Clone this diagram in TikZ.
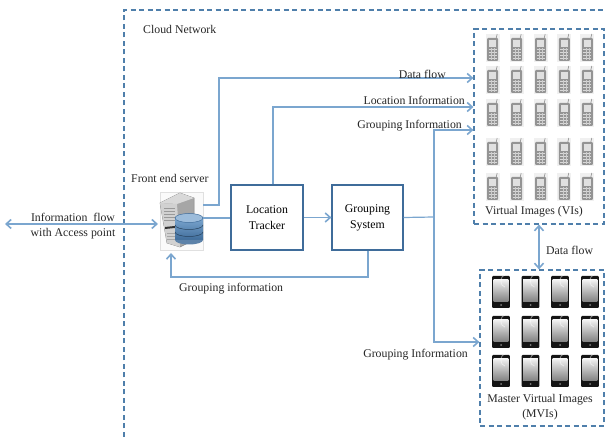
\documentclass[tikz,border=0pt]{standalone}
\usepackage{fontspec}
\setmainfont{Liberation Serif}
\usetikzlibrary{arrows.meta,calc,positioning}
\definecolor{flow}{HTML}{7BA6CF}
\definecolor{dash}{HTML}{4F7FAB}
\definecolor{boxb}{HTML}{3F6C9A}
\tikzset{
 x=1pt,y=-1pt,
 conn/.style={draw=flow,line width=1.2pt},
 arr/.style={conn,-{Straight Barb[length=5pt,width=9pt,line width=1.6pt]}},
 darr/.style={conn,{Straight Barb[length=5pt,width=9pt,line width=1.6pt]}-{Straight Barb[length=5pt,width=9pt,line width=1.6pt]}},
 dashbox/.style={draw=dash,line width=1.2pt,dash pattern=on 5pt off 3.5pt},
 procbox/.style={draw=boxb,line width=1.2pt,fill=white,align=center,inner sep=0pt},
 lab/.style={font=\fontsize{11.8}{15}\selectfont,align=center,inner sep=0pt,text=black!85},
 pics/oldphone/.style={code={
   \fill[black!6] (-7,-14) rectangle (7,14);
   \fill[black!42,rounded corners=1pt] (-5.5,-10) rectangle (5.5,13);
   \draw[black!45,line width=.6pt] (3.5,-10) -- (4.5,-14);
   \fill[black!12] (-3.7,-8) rectangle (3.7,-1);
   \foreach \i in {0,1,2,3}{\draw[black!15,line width=.7pt] (-4,{1.5+\i*2.8}) -- (4,{1.5+\i*2.8});}
   \foreach \j in {-1.5,1.5}{\draw[black!20,line width=.5pt] (\j,0) -- (\j,12);}
 }},
 pics/smartphone/.style={code={
   \fill[black!92,rounded corners=1pt] (-8.8,-16) rectangle (8.8,16);
   \shade[top color=black!5,bottom color=black!50] (-7.4,-12.5) rectangle (7.4,10);
   \draw[white,opacity=.5,line width=.8pt] (4,-5) arc (90:270:4 and 6);
   \fill[black!50] (0,13) circle (1);
 }}
}
\begin{document}
\begin{tikzpicture}
\useasboundingbox (0,0) rectangle (606,438);
% cloud boundary
\coordinate (cloudA) at (124,437);
\coordinate (cloudB) at (124,10);
\coordinate (cloudC) at (606,10);
\draw[dashbox] (cloudA) -- (cloudB) -- (cloudC);
\node[lab,anchor=west] (cloudlab) at (143,29) {Cloud Network};
% image groups
\node[dashbox,minimum width=130pt,minimum height=195pt,inner sep=0pt] (vi) at (539,126.5) {};
\node[dashbox,minimum width=124pt,minimum height=156pt,inner sep=0pt] (mvi) at (542,348) {};
\foreach \y in {48,80,113,152,187}{\foreach \x in {492.7,516.7,540.7,564.3,587.3}{\pic at (\x,\y) {oldphone};}}
\foreach \y in {292,332,371}{\foreach \x in {501,530.5,560,590}{\pic at (\x,\y) {smartphone};}}
\node[lab] (vilab) at (534,212) {Virtual Images (VIs)};
\node[lab] (mvilab) at (540,407) {Master Virtual Images\\(MVIs)};
% process boxes
\node[procbox,minimum width=72pt,minimum height=65pt,font=\fontsize{11.8}{16}\selectfont] (lt) at (267,217.5) {\raisebox{-2pt}{\parbox{60pt}{\centering Location\\Tracker}}};
\node[procbox,minimum width=71pt,minimum height=65pt,font=\fontsize{11.8}{16}\selectfont] (gs) at (367.5,217.5) {\raisebox{-2pt}{\parbox{60pt}{\centering Grouping\\System}}};
% server
\node[draw=black!12,line width=.4pt,fill=black!2,minimum width=43pt,minimum height=58pt,inner sep=0pt] (srv) at (181.5,221) {};
\draw[black!50,line width=.5pt,fill=black!35]
  (160,203) -- (180,193) -- (194,198) -- (194,240) -- (180,247) -- (167,243) -- cycle;
\fill[black!15] (160,203) -- (180,193) -- (194,198) -- (177,204) -- cycle;
\fill[black!18] (160,203) -- (177,204) -- (180,247) -- (167,243) -- cycle;
\foreach \y in {208,211,214,217,220}{\draw[black!40,line width=.5pt] (164,\y) -- (175,\y);}
\fill[black!80] (165,227) -- (175,226) -- (175,228) -- (165,229) -- cycle;
\foreach \y in {233,236,239}{\draw[black!35,line width=.4pt] (167,\y) -- (176,\y);}
\shade[top color=flow,bottom color=boxb] (175,218) rectangle (203,240);
\fill[boxb!85] (175,240) arc[start angle=180,end angle=360,x radius=14,y radius=-4.5] -- cycle;
\fill[flow!75!white,draw=boxb,line width=.5pt] (189,218) ellipse (14 and 4.5);
\draw[boxb!60!black,line width=.5pt] (175,225) arc[start angle=180,end angle=360,x radius=14,y radius=-4.5];
\draw[boxb!60!black,line width=.5pt] (175,232) arc[start angle=180,end angle=360,x radius=14,y radius=-4.5];
\node[lab,anchor=west] (srvlab) at (131,178) {Front end server};
% junctions
\coordinate (srvtop) at (203,205);
\coordinate (srvright) at (203,218);
\coordinate (srvleft) at (158,224);
\coordinate (srvbot) at (171,253);
\coordinate (ap) at (5,224);
\coordinate (dfcorner) at (219,205);
\coordinate (dftop) at (219,78);
\coordinate (dfend) at (vi.west |- dftop);
\coordinate (lttop) at (273,107);
\coordinate (liend) at (vi.west |- lttop);
\coordinate (gsj) at (434,217);
\coordinate (gstop) at (434,130);
\coordinate (gsbot) at (434,342);
\coordinate (giend) at (vi.west |- gstop);
\coordinate (gi2end) at (mvi.west |- gsbot);
\coordinate (gsb) at (368,277);
\coordinate (srvb) at (171,277);
% connectors
\draw[darr] (ap) -- (srvleft);
\draw[arr] (srvtop) -- (dfcorner) -- (dftop) -- (dfend);
\draw[arr] (lt.north -| lttop) -- (lttop) -- (liend);
\draw[conn] (srvright) -- (lt.west |- srvright);
\draw[arr] (lt.east) -- (gs.west);
\draw[conn] (gs.east) -- (gsj);
\draw[arr] (gsbot) -- (gstop) -- (giend);
\draw[arr] (gsj) -- (gsbot) -- (gi2end);
\draw[arr] (gs.south -| gsb) -- (gsb) -- (srvb) -- (srvbot);
\draw[darr] (vi.south) -- (mvi.north -| vi.south);
% labels
\node[lab] (infolab) at (73,226) {Information\ \ flow\\with Access point};
\node[lab,anchor=east] (dflab) at (446,74) {Data flow};
\node[lab,anchor=east] (lilab) at (465,100) {Location Information};
\node[lab,anchor=east] (gilab) at (462,126) {Grouping Information};
\node[lab,anchor=east] (gi2lab) at (468,355) {Grouping Information};
\node[lab,anchor=west] (grlab) at (179,289) {Grouping information};
\node[lab,anchor=west] (dfl2) at (546,250) {Data flow};
\end{tikzpicture}
\end{document}
